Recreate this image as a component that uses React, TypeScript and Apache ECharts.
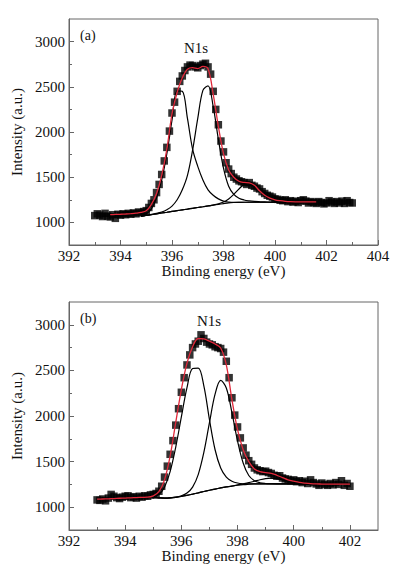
import React, { useEffect, useRef } from "react";
import * as echarts from "echarts";

// ---------- Panel (a) ----------
const PTS_X_A = [393.0,393.1,393.2,393.3,393.4,393.5,393.6,393.7,393.8,393.9,394.0,394.1,394.2,394.3,394.4,394.5,394.6,394.7,394.8,394.9,395.0,395.1,395.2,395.3,395.4,395.5,395.6,395.7,395.8,395.9,396.0,396.1,396.2,396.3,396.4,396.5,396.6,396.7,396.8,396.9,397.0,397.1,397.2,397.3,397.4,397.5,397.6,397.7,397.8,397.9,398.0,398.1,398.2,398.3,398.4,398.5,398.6,398.7,398.8,398.9,399.0,399.1,399.2,399.3,399.4,399.5,399.6,399.7,399.8,399.9,400.0,400.1,400.2,400.3,400.4,400.5,400.6,400.7,400.8,400.9,401.0,401.1,401.2,401.3,401.4,401.5,401.6,401.7,401.8,401.9,402.0,402.1,402.2,402.3,402.4,402.5,402.6,402.7,402.8,402.9,403.0];
const PTS_Y_A = [1075,1095,1080,1065,1100,1070,1060,1085,1045,1090,1080,1095,1085,1100,1090,1105,1095,1115,1105,1120,1130,1165,1210,1250,1330,1420,1530,1680,1830,2010,2210,2330,2450,2560,2620,2680,2720,2740,2735,2720,2710,2735,2750,2760,2720,2640,2450,2250,2080,1900,1780,1660,1590,1540,1500,1480,1460,1450,1440,1420,1440,1410,1400,1380,1370,1340,1320,1300,1290,1280,1260,1255,1245,1240,1250,1230,1240,1225,1235,1220,1240,1250,1235,1215,1230,1220,1210,1230,1220,1205,1215,1240,1225,1210,1230,1215,1235,1210,1240,1220,1215];

const ENV_X_A = [393.6,393.8,394.0,394.2,394.4,394.6,394.8,395.0,395.2,395.4,395.6,395.8,396.0,396.2,396.4,396.6,396.8,397.0,397.2,397.4,397.6,397.8,398.0,398.2,398.4,398.6,398.8,399.0,399.2,399.4,399.6,399.8,400.0,400.2,400.4,400.6,400.8,401.0,401.2,401.4,401.6];
const ENV_Y_A = [1085,1088,1090,1093,1097,1102,1110,1128,1200,1320,1520,1810,2200,2440,2600,2695,2712,2702,2725,2700,2420,2063,1760,1580,1500,1455,1442,1438,1410,1350,1300,1268,1250,1240,1233,1229,1227,1226,1226,1226,1226];

// x positions shared by the component curves of both panels
const FIT_X = [394.8,395.0,395.2,395.4,395.6,395.8,396.0,396.2,396.4,396.6,396.8,397.0,397.2,397.4,397.6,397.8,398.0,398.2,398.4,398.6,398.8,399.0,399.2,399.4,399.6,399.8,400.0,400.2,400.4,400.6,400.8,401.0,401.2,401.4];

const BASE_A = [1068,1077,1086,1095,1104,1112,1121,1130,1139,1147,1156,1165,1173,1182,1191,1199,1208,1216,1220,1222,1223,1223,1223,1223,1223,1223,1223,1223,1223,1223,1223,1223,1223,1223];
const PEAK1_A = [1072,1095,1150,1270,1470,1760,2130,2455,2450,2150,1810,1620,1470,1360,1300,1260,1235,1225,1221,1222,1223,1223,1223,1223,1223,1223,1223,1223,1223,1223,1223,1223,1223,1223];
const PEAK2_A = [1070,1080,1090,1100,1115,1140,1180,1250,1360,1520,1800,2150,2460,2510,2280,1920,1600,1400,1310,1268,1248,1238,1232,1229,1227,1225,1224,1223,1223,1223,1223,1223,1223,1223];
const PEAK3_A = [1068,1077,1086,1095,1104,1112,1121,1130,1139,1147,1156,1165,1173,1182,1192,1205,1225,1260,1310,1370,1420,1435,1408,1355,1298,1258,1236,1227,1224,1223,1223,1223,1223,1223];

// ---------- Panel (b) ----------
const PTS_X_B = [393.0,393.1,393.2,393.3,393.4,393.5,393.6,393.7,393.8,393.9,394.0,394.1,394.2,394.3,394.4,394.5,394.6,394.7,394.8,394.9,395.0,395.1,395.2,395.3,395.4,395.5,395.6,395.7,395.8,395.9,396.0,396.1,396.2,396.3,396.4,396.5,396.6,396.7,396.8,396.9,397.0,397.1,397.2,397.3,397.4,397.5,397.6,397.7,397.8,397.9,398.0,398.1,398.2,398.3,398.4,398.5,398.6,398.7,398.8,398.9,399.0,399.1,399.2,399.3,399.4,399.5,399.6,399.7,399.8,399.9,400.0,400.1,400.2,400.3,400.4,400.5,400.6,400.7,400.8,400.9,401.0,401.1,401.2,401.3,401.4,401.5,401.6,401.7,401.8,401.9,402.0];
const PTS_Y_B = [1080,1075,1090,1070,1100,1140,1120,1105,1095,1110,1120,1125,1105,1115,1100,1120,1110,1125,1120,1135,1140,1150,1175,1230,1330,1450,1580,1730,1900,2080,2260,2420,2560,2670,2750,2790,2820,2890,2850,2810,2790,2780,2760,2750,2740,2700,2600,2420,2200,2010,1880,1760,1650,1570,1510,1470,1430,1410,1400,1390,1395,1380,1370,1350,1340,1345,1320,1310,1305,1290,1300,1280,1290,1270,1285,1260,1300,1270,1255,1240,1265,1250,1240,1260,1245,1270,1250,1290,1240,1260,1230];

const ENV_X_B = [393.0,393.2,393.4,393.6,393.8,394.0,394.2,394.4,394.6,394.8,395.0,395.2,395.4,395.6,395.8,396.0,396.2,396.4,396.6,396.8,397.0,397.2,397.4,397.6,397.8,398.0,398.2,398.4,398.6,398.8,399.0,399.2,399.4,399.6,399.8,400.0,400.2,400.4,400.6,400.8,401.0,401.2,401.4,401.6,401.8,402.0];
const ENV_Y_B = [1088,1090,1092,1095,1098,1100,1103,1106,1108,1110,1125,1170,1300,1560,1930,2290,2580,2760,2850,2845,2820,2790,2745,2560,2180,1850,1630,1500,1420,1390,1380,1372,1350,1325,1300,1285,1272,1264,1258,1255,1254,1253,1253,1253,1253,1253];

const BASE_B = [1108,1105,1102,1100,1102,1108,1118,1130,1143,1157,1172,1186,1199,1211,1222,1232,1241,1248,1252,1255,1256,1256,1256,1256,1256,1256,1256,1256,1256,1256,1256,1256,1256,1256];
const PEAK1_B = [1110,1115,1140,1220,1390,1660,1990,2310,2520,2525,2330,1960,1630,1430,1330,1285,1265,1257,1255,1256,1256,1256,1256,1256,1256,1256,1256,1256,1256,1256,1256,1256,1256,1256];
const PEAK2_B = [1108,1105,1102,1100,1103,1110,1125,1155,1220,1357,1600,1927,2239,2390,2307,2038,1726,1485,1347,1290,1268,1260,1257,1256,1256,1256,1256,1256,1256,1256,1256,1256,1256,1256];
const PEAK3_B = [1108,1105,1102,1100,1102,1108,1118,1130,1143,1157,1172,1186,1199,1211,1222,1232,1244,1256,1269,1285,1301,1313,1318,1313,1301,1285,1269,1264,1259,1257,1256,1256,1256,1256];

// ---------- Ticks ----------
const X_MAJOR_A = [392, 394, 396, 398, 400, 402, 404];
const X_MINOR_A = [393, 395, 397, 399, 401, 403];
const X_MAJOR_B = [392, 394, 396, 398, 400, 402];
const X_MINOR_B = [393, 395, 397, 399, 401];
const Y_MAJOR = [1000, 1500, 2000, 2500, 3000];
const Y_MINOR = [1250, 1750, 2250, 2750];

const FONT = "Liberation Serif";
const AXIS_COLOR = "#666";
const TEXT_COLOR = "#111";

const pairs = (xs: number[], ys: number[]) => xs.map((x, i) => [x, ys[i]]);

export default function App() {
  const ref = useRef<HTMLDivElement>(null);
  useEffect(() => {
    if (!ref.current) return;
    const chart = echarts.init(ref.current, undefined, { renderer: "svg" });

    const plain = (v: number) => String(v);

    const mkX = (grid: number, max: number, major: number[], minor: number[]) => [
      {
        type: "value", gridIndex: grid, min: 392, max, position: "bottom",
        axisLine: { show: true, lineStyle: { color: AXIS_COLOR, width: 1 } },
        axisTick: { show: true, inside: true, length: 5, customValues: major, lineStyle: { color: AXIS_COLOR } },
        axisLabel: { show: true, customValues: major, formatter: plain, fontFamily: FONT, fontSize: 15, color: TEXT_COLOR, margin: 3 },
        splitLine: { show: false },
        name: "Binding energy (eV)", nameLocation: "middle", nameGap: 16,
        nameTextStyle: { fontFamily: FONT, fontSize: 15, color: TEXT_COLOR },
      },
      {
        type: "value", gridIndex: grid, min: 392, max, position: "bottom",
        axisLine: { show: false },
        axisTick: { show: true, inside: true, length: 3, customValues: minor, lineStyle: { color: AXIS_COLOR } },
        axisLabel: { show: false },
        splitLine: { show: false },
      },
    ];
    const mkY = (grid: number) => [
      {
        type: "value", gridIndex: grid, min: 750, max: 3250, position: "left",
        axisLine: { show: true, lineStyle: { color: AXIS_COLOR, width: 1 } },
        axisTick: { show: true, inside: true, length: 5, customValues: Y_MAJOR, lineStyle: { color: AXIS_COLOR } },
        axisLabel: { show: true, customValues: Y_MAJOR, formatter: plain, fontFamily: FONT, fontSize: 15, color: TEXT_COLOR, margin: 4 },
        splitLine: { show: false },
        name: "Intensity (a.u.)", nameLocation: "middle", nameGap: 42, nameRotate: 90,
        nameTextStyle: { fontFamily: FONT, fontSize: 15, color: TEXT_COLOR },
      },
      {
        type: "value", gridIndex: grid, min: 750, max: 3250, position: "left",
        axisLine: { show: false },
        axisTick: { show: true, inside: true, length: 3, customValues: Y_MINOR, lineStyle: { color: AXIS_COLOR } },
        axisLabel: { show: false },
        splitLine: { show: false },
      },
    ];

    const scatter = (xi: number, yi: number, data: number[][]) => ({
      type: "scatter", xAxisIndex: xi, yAxisIndex: yi, data,
      symbol: "rect", symbolSize: 7.5, itemStyle: { color: "#000" }, z: 2,
    });
    const blackLine = (xi: number, yi: number, data: number[][]) => ({
      type: "line", xAxisIndex: xi, yAxisIndex: yi, data, showSymbol: false, smooth: 0.35,
      lineStyle: { color: "#000", width: 1.2 }, z: 3,
    });
    const redLine = (xi: number, yi: number, data: number[][]) => ({
      type: "line", xAxisIndex: xi, yAxisIndex: yi, data, showSymbol: false, smooth: 0.35,
      lineStyle: { color: "#e0283a", width: 1.3 }, z: 4,
    });

    chart.setOption({
      animation: false,
      backgroundColor: "#fff",
      textStyle: { fontFamily: FONT },
      grid: [
        { left: 69, top: 19, width: 309, height: 226, show: true, borderColor: AXIS_COLOR, borderWidth: 1, backgroundColor: "transparent" },
        { left: 69, top: 302, width: 309, height: 228, show: true, borderColor: AXIS_COLOR, borderWidth: 1, backgroundColor: "transparent" },
      ],
      xAxis: [...mkX(0, 404, X_MAJOR_A, X_MINOR_A), ...mkX(1, 403, X_MAJOR_B, X_MINOR_B)],
      yAxis: [...mkY(0), ...mkY(1)],
      series: [
        scatter(0, 0, pairs(PTS_X_A, PTS_Y_A)),
        blackLine(0, 0, pairs(FIT_X, BASE_A)),
        blackLine(0, 0, pairs(FIT_X, PEAK1_A)),
        blackLine(0, 0, pairs(FIT_X, PEAK2_A)),
        blackLine(0, 0, pairs(FIT_X, PEAK3_A)),
        redLine(0, 0, pairs(ENV_X_A, ENV_Y_A)),
        scatter(2, 2, pairs(PTS_X_B, PTS_Y_B)),
        blackLine(2, 2, pairs(FIT_X, BASE_B)),
        blackLine(2, 2, pairs(FIT_X, PEAK1_B)),
        blackLine(2, 2, pairs(FIT_X, PEAK2_B)),
        blackLine(2, 2, pairs(FIT_X, PEAK3_B)),
        redLine(2, 2, pairs(ENV_X_B, ENV_Y_B)),
      ],
      graphic: [
        { type: "text", left: 80, top: 28, style: { text: "(a)", font: `14px "${FONT}"`, fill: TEXT_COLOR } },
        { type: "text", left: 184, top: 40, style: { text: "N1s", font: `15px "${FONT}"`, fill: TEXT_COLOR } },
        { type: "text", left: 80, top: 311, style: { text: "(b)", font: `14px "${FONT}"`, fill: TEXT_COLOR } },
        { type: "text", left: 197, top: 313, style: { text: "N1s", font: `15px "${FONT}"`, fill: TEXT_COLOR } },
      ],
    });
    return () => chart.dispose();
  }, []);
  return (
    <div
      ref={ref}
      style={{ position: "fixed", left: 0, top: 0, width: 393, height: 571, background: "#fff" }}
    />
  );
}
